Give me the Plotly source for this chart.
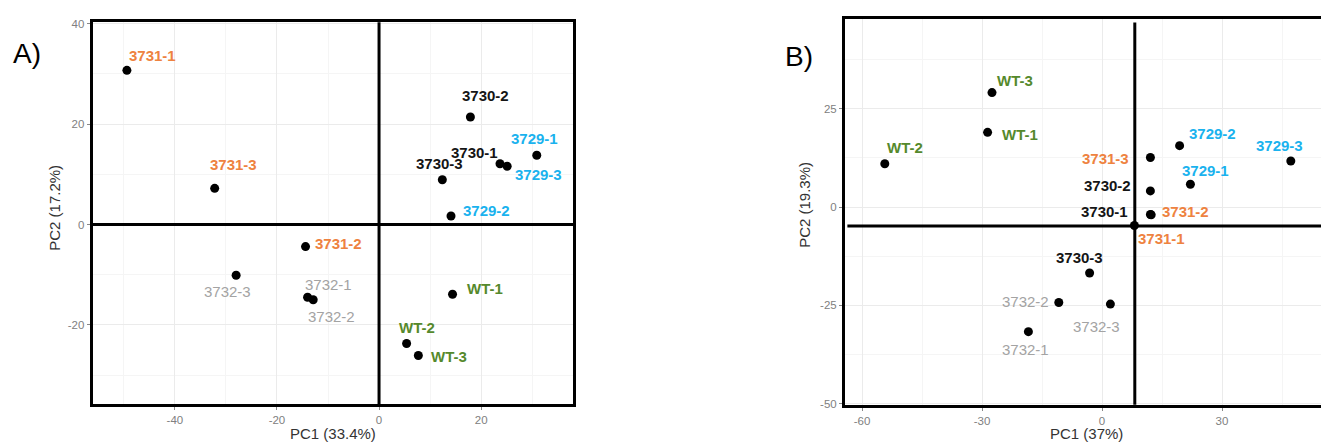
import plotly.graph_objects as go

W, H = 1321, 446

# ---------------- Panel A data ----------------
a_samples = ["3731-1", "3731-3", "3731-2", "3732-3", "3732-1", "3732-2",
             "3730-2", "3730-3", "3730-1", "3729-3", "3729-1", "3729-2",
             "WT-1", "WT-2", "WT-3"]
a_pc1 = [-49.4, -32.2, -14.4, -28.0, -14.0, -12.9,
         17.9, 12.4, 23.7, 25.1, 30.9, 14.1,
         14.4, 5.4, 7.7]
a_pc2 = [30.7, 7.2, -4.4, -10.1, -14.5, -15.0,
         21.4, 8.9, 12.1, 11.6, 13.8, 1.7,
         -13.9, -23.7, -26.1]
a_xticks = [-40, -20, 0, 20]
a_xticktext = ["-40", "-20", "0", "20"]
a_yticks = [-20, 0, 20, 40]
a_yticktext = ["-20", "0", "20", "40"]
a_xtitle = "PC1 (33.4%)"
a_ytitle = "PC2 (17.2%)"

# ---------------- Panel B data ----------------
b_samples = ["WT-3", "WT-1", "WT-2", "3731-3", "3729-2", "3729-3", "3729-1",
             "3730-2", "3730-1", "3731-2", "3731-1", "3730-3",
             "3732-2", "3732-3", "3732-1"]
b_pc1 = [-27.5, -28.6, -54.3, 12.1, 19.4, 47.2, 22.1,
         12.1, 12.1, 12.3, 8.1, -3.1,
         -10.8, 2.1, -18.4]
b_pc2 = [29.1, 19.0, 11.0, 12.6, 15.6, 11.7, 5.8,
         4.1, -1.9, -2.0, -4.7, -16.8,
         -24.3, -24.7, -31.7]
b_xticks = [-60, -30, 0, 30]
b_xticktext = ["-60", "-30", "0", "30"]
b_yticks = [-50, -25, 0, 25]
b_yticktext = ["-50", "-25", "0", "25"]
b_xtitle = "PC1 (37%)"
b_ytitle = "PC2 (19.3%)"
b_cross_x = 8.2
b_cross_y = -4.8

# ---------------- styles / label offsets (pixels) ----------------
group_colors = {"3731": "#EE8240", "3732": "#A3A3A3", "3730": "#151515",
                "3729": "#1AB2EE", "WT": "#55892C"}

a_label_off = [(26, -15), (19, -24), (33, -3), (-9, 16), (21, -13), (18, 17),
               (15, -22), (-3, -16), (-26, -11), (31, 8), (-2, -17), (35, -5),
               (32, -6), (10, -16), (31, 1)]
b_label_off = [(23, -12), (32, 2), (20, -16), (-45, 1), (33, -12), (-11, -16),
               (15, -14), (-43, -5), (-46, -3), (34, -3), (27, 13), (-10, -16),
               (-33, -1), (-14, 22), (-3, 18)]

FONT = "Liberation Sans"
TICK_COLOR = "#808080"
GRID_MAJOR = "#ebebeb"
GRID_MINOR = "#f5f5f5"

fig = go.Figure()

fig.add_trace(go.Scatter(x=a_pc1, y=a_pc2, mode="markers", xaxis="x", yaxis="y",
                         marker=dict(color="black", size=9), showlegend=False,
                         text=a_samples, hoverinfo="text"))
fig.add_trace(go.Scatter(x=b_pc1, y=b_pc2, mode="markers", xaxis="x2", yaxis="y2",
                         marker=dict(color="black", size=9), showlegend=False,
                         text=b_samples, hoverinfo="text"))


def grp(name):
    return name.split("-")[0]


annotations = []
for names, xs, ys, offs, xr, yr in [(a_samples, a_pc1, a_pc2, a_label_off, "x", "y"),
                                    (b_samples, b_pc1, b_pc2, b_label_off, "x2", "y2")]:
    for n, xv, yv, (dx, dy) in zip(names, xs, ys, offs):
        g = grp(n)
        is_grey = g == "3732"
        annotations.append(dict(
            x=xv, y=yv, xref=xr, yref=yr, text=n if is_grey else "<b>" + n + "</b>",
            showarrow=False, xshift=dx, yshift=-dy,
            font=dict(family=FONT, size=15, color=group_colors[g])))

# panel letters
annotations.append(dict(x=11 / W, y=1 - 51 / H, xref="paper", yref="paper", text="A)",
                        showarrow=False, xanchor="left", yanchor="middle",
                        font=dict(family=FONT, size=28, color="black")))
annotations.append(dict(x=783 / W, y=1 - 54 / H, xref="paper", yref="paper", text="B)",
                        showarrow=False, xanchor="left", yanchor="middle",
                        font=dict(family=FONT, size=28, color="black")))

# axis titles
title_font = dict(family=FONT, size=15, color="#333333")
annotations.append(dict(x=333 / W, y=1 - 438 / H, xref="paper", yref="paper", text=a_xtitle,
                        showarrow=False, xanchor="center", yanchor="middle", font=title_font))
annotations.append(dict(x=55 / W, y=1 - 208 / H, xref="paper", yref="paper", text=a_ytitle,
                        showarrow=False, xanchor="center", yanchor="middle", textangle=-90,
                        font=title_font))
annotations.append(dict(x=1086 / W, y=1 - 438 / H, xref="paper", yref="paper", text=b_xtitle,
                        showarrow=False, xanchor="center", yanchor="middle", font=title_font))
annotations.append(dict(x=805 / W, y=1 - 205 / H, xref="paper", yref="paper", text=b_ytitle,
                        showarrow=False, xanchor="center", yanchor="middle", textangle=-90,
                        font=title_font))

common_axis = dict(showgrid=True, gridcolor=GRID_MAJOR, gridwidth=1, zeroline=False,
                   showline=True, linecolor="black", linewidth=3,
                   ticks="outside", ticklen=3, tickcolor="#888888", tickwidth=1,
                   tickfont=dict(family=FONT, size=11.5, color=TICK_COLOR),
                   tickmode="array", fixedrange=True)

fig.update_layout(
    width=W, height=H, margin=dict(l=0, r=0, t=0, b=0),
    paper_bgcolor="white", plot_bgcolor="white",
    showlegend=False,
    xaxis=dict(common_axis, domain=[92.7 / W, 573 / W], range=[-56.1, 38.0],
               tickvals=a_xticks, ticktext=a_xticktext, mirror=True, anchor="y",
               minor=dict(tickmode="linear", tick0=0, dtick=10, showgrid=True,
                          gridcolor=GRID_MINOR)),
    yaxis=dict(common_axis, domain=[1 - 408.5 / H, 1 - 18.5 / H], range=[-35.8, 40.3],
               tickvals=a_yticks, ticktext=a_yticktext, mirror=True, anchor="x",
               minor=dict(tickmode="linear", tick0=0, dtick=10, showgrid=True,
                          gridcolor=GRID_MINOR)),
    xaxis2=dict(common_axis, domain=[845 / W, 1.0], range=[-64.25, 54.75],
                tickvals=b_xticks, ticktext=b_xticktext, mirror=True, anchor="y2",
                minor=dict(tickmode="linear", tick0=0, dtick=15, showgrid=True,
                           gridcolor=GRID_MINOR)),
    yaxis2=dict(common_axis, domain=[1 - 409 / H, 1 - 15 / H], range=[-50.3, 47.9],
                tickvals=b_yticks, ticktext=b_yticktext, mirror=False, anchor="x2",
                minor=dict(tickmode="linear", tick0=0, dtick=12.5, showgrid=True,
                           gridcolor=GRID_MINOR)),
    annotations=annotations,
    shapes=[
        dict(type="line", xref="x", yref="y domain", x0=0, x1=0, y0=0, y1=1,
             line=dict(color="black", width=3), layer="above"),
        dict(type="line", xref="x domain", yref="y", x0=0, x1=1, y0=0, y1=0,
             line=dict(color="black", width=3), layer="above"),
        dict(type="line", xref="x2", yref="y2 domain", x0=b_cross_x, x1=b_cross_x, y0=0, y1=0.99,
             line=dict(color="black", width=3), layer="above"),
        dict(type="line", xref="x2 domain", yref="y2", x0=0.005, x1=1, y0=b_cross_y, y1=b_cross_y,
             line=dict(color="black", width=3), layer="above"),
    ],
)

fig.write_html("out.html", config={"displayModeBar": False},
               post_script="document.body.style.margin='0';document.body.style.overflow='hidden';")
